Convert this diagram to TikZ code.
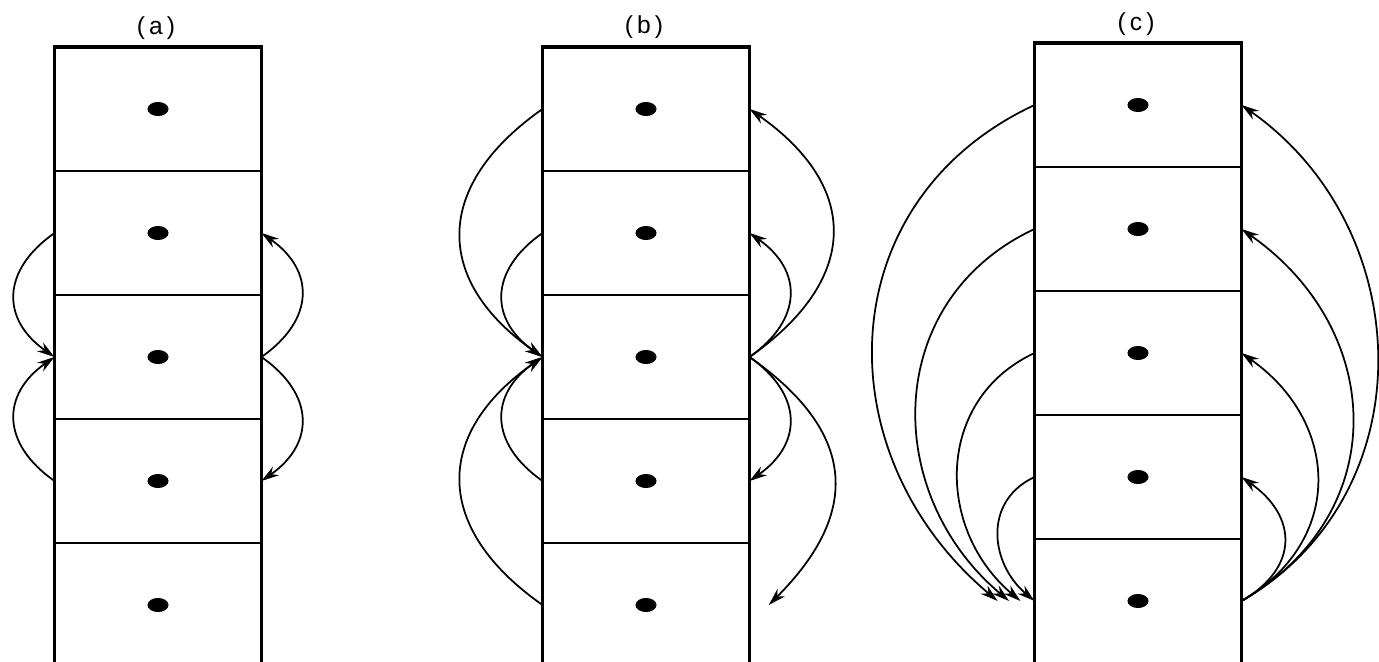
\documentclass[tikz,border=0pt]{standalone}
\usepackage{fontspec}
\setmainfont{Liberation Sans}
\usetikzlibrary{arrows.meta}

\begin{document}
\begin{tikzpicture}[x=0.02cm, y=0.02cm]
\tikzset{cellule/.style={draw, line width=1.1pt, minimum width=4.14cm, minimum height=2.48cm, inner sep=0pt, outer sep=0pt},
  bord/.style={line width=2.2pt},
  fleche/.style={line width=1pt, -{Stealth[length=10pt, width=6pt]}},
  titre/.style={font=\fontsize{14}{16}\selectfont}}
\useasboundingbox (0,0) rectangle (1379,-662);
\node[titre] (ta) at (156,-28) {(\,a\,)};
\node[titre] (tb) at (644,-27) {(\,b\,)};
\node[titre] (tc) at (1136,-24) {(\,c\,)};
\node[cellule] (a1) at (158,-109) {};
\node[cellule] (a2) at (158,-233) {};
\node[cellule] (a3) at (158,-357) {};
\node[cellule] (a4) at (158,-481) {};
\node[cellule] (a5) at (158,-605) {};
\node[cellule] (b1) at (646,-109) {};
\node[cellule] (b2) at (646,-233) {};
\node[cellule] (b3) at (646,-357) {};
\node[cellule] (b4) at (646,-481) {};
\node[cellule] (b5) at (646,-605) {};
\node[cellule] (c1) at (1138,-105) {};
\node[cellule] (c2) at (1138,-229) {};
\node[cellule] (c3) at (1138,-353) {};
\node[cellule] (c4) at (1138,-477) {};
\node[cellule] (c5) at (1138,-601) {};
\draw[bord] (a5.south west) -- (a1.north west) -- (a1.north east) -- (a5.south east);
\draw[bord] (b5.south west) -- (b1.north west) -- (b1.north east) -- (b5.south east);
\draw[bord] (c5.south west) -- (c1.north west) -- (c1.north east) -- (c5.south east);
\foreach \c in {a1,a2,a3,a4,a5,b1,b2,b3,b4,b5,c1,c2,c3,c4,c5}
  \fill (\c) ellipse [x radius=6pt, y radius=4pt];
% (a)
\draw[fleche] (a2.west) to[out=215, in=145, looseness=1.35] (a3.west);
\draw[fleche] (a4.west) to[out=145, in=215, looseness=1.35] (a3.west);
\draw[fleche] (a3.east) to[out=35, in=-35, looseness=1.35] (a2.east);
\draw[fleche] (a3.east) to[out=-35, in=35, looseness=1.35] (a4.east);
% (b)
\coordinate (b5p) at ([xshift=11pt]b5.east);
\draw[fleche] (b1.west) to[out=215, in=145, looseness=1.38] (b3.west);
\draw[fleche] (b2.west) to[out=215, in=145, looseness=1.35] (b3.west);
\draw[fleche] (b4.west) to[out=145, in=215, looseness=1.35] (b3.west);
\draw[fleche] (b5.west) to[out=145, in=215, looseness=1.38] (b3.west);
\draw[fleche] (b3.east) to[out=35, in=-35, looseness=1.4] (b1.east);
\draw[fleche] (b3.east) to[out=35, in=-35, looseness=1.35] (b2.east);
\draw[fleche] (b3.east) to[out=-35, in=35, looseness=1.35] (b4.east);
\draw[fleche] (b3.east) to[out=-35, in=45, looseness=1.35] (b5p);
% (c)
\coordinate (c5p1) at ([xshift=-21pt]c5.west);
\coordinate (c5p2) at ([xshift=-14.5pt]c5.west);
\coordinate (c5p3) at ([xshift=-8pt]c5.west);
\draw[fleche] (c1.west) to[out=205, in=140, looseness=1.17] (c5p1);
\draw[fleche] (c2.west) to[out=205, in=140, looseness=1.15] (c5p2);
\draw[fleche] (c3.west) to[out=205, in=140, looseness=1.14] (c5p3);
\draw[fleche] (c4.west) to[out=205, in=140, looseness=1.19] (c5.west);
\draw[fleche] (c5.east) to[out=30, in=-35, looseness=1.11] (c1.east);
\draw[fleche] (c5.east) to[out=30, in=-35, looseness=1.21] (c2.east);
\draw[fleche] (c5.east) to[out=30, in=-35, looseness=1.24] (c3.east);
\draw[fleche] (c5.east) to[out=30, in=-35, looseness=1.4] (c4.east);
\end{tikzpicture}
\end{document}
